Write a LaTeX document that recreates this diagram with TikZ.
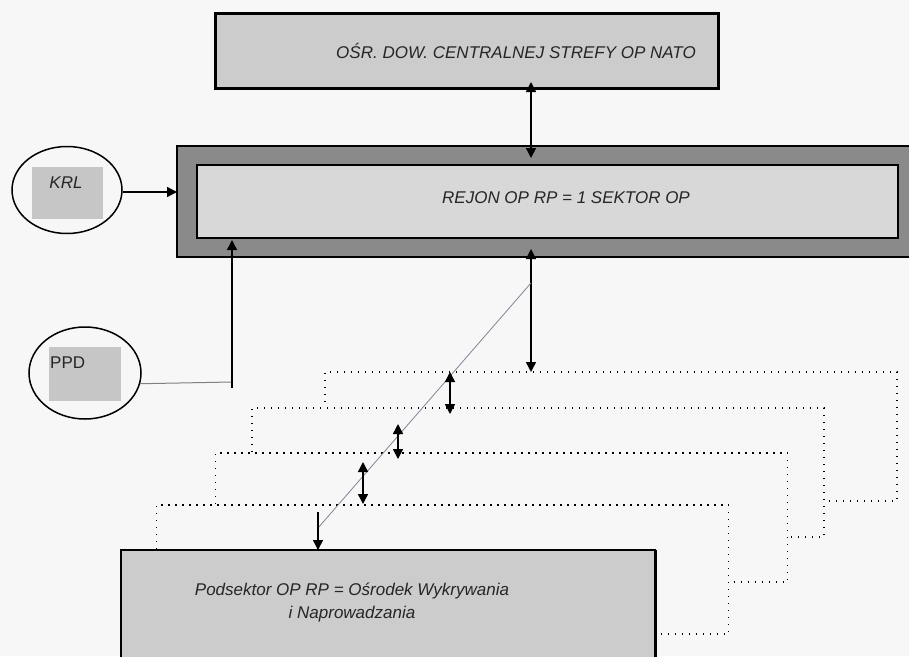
\documentclass[tikz,border=0pt]{standalone}
\usepackage{fontspec}
\setmainfont{Liberation Sans}
\usetikzlibrary{arrows.meta,shapes.geometric}
\definecolor{paper}{HTML}{F7F7F7}
\definecolor{lightdot}{HTML}{CCCCCC}
\definecolor{darkdot}{HTML}{8A8A8A}
\definecolor{innerdot}{HTML}{D8D8D8}
\definecolor{smalldot}{HTML}{C6C6C6}
\definecolor{diagc}{HTML}{8C7F95}
\begin{document}
\begin{tikzpicture}[x=1pt,y=-1pt,
  lbl/.style={font=\fontsize{17}{23}\selectfont\itshape, text=black!85, inner sep=0pt},
  box/.style={rectangle, draw, inner sep=0pt, outer sep=0pt},
  dotbox/.style={rectangle, draw, dash pattern=on 1.4pt off 5.6pt, line width=1.4pt, fill=paper, minimum width=572pt, minimum height=129pt, inner sep=0pt, outer sep=0pt},
  oval/.style={ellipse, draw, line width=1.5pt, fill=paper, inner sep=0pt},
  arr/.style={line width=1.5pt, -{Triangle[length=10pt,width=10pt]}},
  darr/.style={line width=1.5pt, {Triangle[length=10pt,width=10pt]}-{Triangle[length=10pt,width=10pt]}},
]
\fill[paper] (0,0) rectangle (909,656);
\useasboundingbox (0,0) rectangle (909,656);

% stacked dotted boxes (back to front)
\node[dotbox] (b1) at (611,436.5) {};
\node[dotbox] (b2) at (538,472.5) {};
\node[dotbox] (b3) at (501.5,517.5) {};
\node[dotbox] (b4) at (442.5,569.5) {};
\node[box, line width=2pt, fill=lightdot, minimum width=534pt, minimum height=150pt, anchor=north west] (bot) at (121,550) {};
\draw[line width=3pt] (bot.north east) -- (bot.south east);
\node[lbl, align=center] (bottxt) at (352,602) {Podsektor OP RP = Ośrodek Wykrywania\\ i Naprowadzania};

% top box
\node[box, line width=3pt, fill=lightdot, minimum width=503pt, minimum height=75pt] (top) at (466.5,50.5) {};
\node[lbl] (toptxt) at (516,51) {OŚR. DOW. CENTRALNEJ STREFY OP NATO};

% region box
\node[box, line width=1.5pt, fill=darkdot, minimum width=740pt, minimum height=111pt, anchor=west] (reg) at (177,201.5) {};
\node[box, line width=1.2pt, fill=innerdot, minimum width=701pt, minimum height=73pt] (regin) at (547.5,201.5) {};
\node[lbl] (regtxt) at (566,198) {REJON OP RP = 1 SEKTOR OP};

% KRL
\node[oval, minimum width=110pt, minimum height=87pt] (krl) at (67,190) {};
\node[box, draw=none, fill=smalldot, minimum width=71pt, minimum height=52pt] (krlbox) at (67.5,193) {};
\node[lbl] (krltxt) at (66,183) {KRL};

% PPD
\node[oval, minimum width=112pt, minimum height=92pt] (ppd) at (85,373) {};
\node[box, draw=none, fill=smalldot, minimum width=72pt, minimum height=54pt] (ppdbox) at (85,374) {};
\node[font=\fontsize{17}{20}\selectfont, text=black!85, inner sep=0pt, anchor=west] (ppdtxt) at (50,363) {PPD};

% connectors
\coordinate (ax) at (531,0);
\coordinate (pj) at (232,382);
\coordinate (pv) at (232,388);
\coordinate (d1) at (531,283);
\coordinate (d2) at (318,528);
\coordinate (d3) at (318,512);

\draw[arr] (krl.east |- 0,192) -- (reg.west |- 0,192);
\draw[gray, line width=1pt] (ppd.-11) -- (pj);
\draw[arr, line width=1.3pt] (pv) -- ([yshift=-2pt]pv |- regin.south);
\draw[darr] ([yshift=6pt]ax |- top.south) -- ([yshift=7pt]ax |- regin.north);
\draw[darr] ([yshift=8pt]ax |- reg.south) -- (ax |- b1.north);
\draw[diagc, line width=0.8pt] (d1) -- (d2);
\draw[arr] (d3) -- (d3 |- bot.north);
\draw[darr] (450,0 |- b1.north) -- ([yshift=-6pt]450,0 |- b2.north);
\draw[darr] ([yshift=-16pt]398,0 |- b2.north) -- ([yshift=-6pt]398,0 |- b3.north);
\draw[darr] ([yshift=-9pt]363,0 |- b3.north) -- ([yshift=1pt]363,0 |- b4.north);
\end{tikzpicture}
\end{document}
